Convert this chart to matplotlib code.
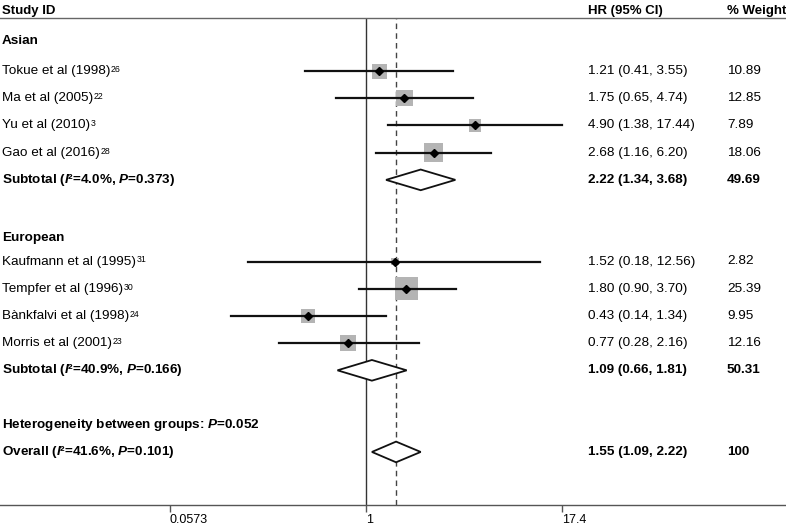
import numpy as np
import matplotlib.pyplot as plt
import matplotlib.transforms as mtransforms
from matplotlib.patches import Polygon

plt.rcParams['font.family'] = ['Liberation Sans', 'DejaVu Sans']
plt.rcParams['mathtext.fontset'] = 'custom'
plt.rcParams['mathtext.rm'] = 'Liberation Sans'
plt.rcParams['mathtext.it'] = 'Liberation Sans:italic'
plt.rcParams['mathtext.bf'] = 'Liberation Sans:bold'
plt.rcParams['mathtext.bfit'] = 'Liberation Sans:bold:italic'

# study data
studies = ['Tokue et al (1998)', 'Ma et al (2005)', 'Yu et al (2010)', 'Gao et al (2016)',
           'Kaufmann et al (1995)', 'Tempfer et al (1996)', 'Bànkfalvi et al (1998)', 'Morris et al (2001)']
refs = ['26', '22', '3', '28', '31', '30', '24', '23']
hr = [1.21, 1.75, 4.90, 2.68, 1.52, 1.80, 0.43, 0.77]
lo = [0.41, 0.65, 1.38, 1.16, 0.18, 0.90, 0.14, 0.28]
hi = [3.55, 4.74, 17.44, 6.20, 12.56, 3.70, 1.34, 2.16]
weight = ['10.89', '12.85', '7.89', '18.06', '2.82', '25.39', '9.95', '12.16']

# pooled data
pooled_labels = [r'Subtotal ($\mathbfit{I}$²=4.0%, $\mathbfit{P}$=0.373)',
                 r'Subtotal ($\mathbfit{I}$²=40.9%, $\mathbfit{P}$=0.166)',
                 r'Overall ($\mathbfit{I}$²=41.6%, $\mathbfit{P}$=0.101)']
pooled_hr = [2.22, 1.09, 1.55]
pooled_lo = [1.34, 0.66, 1.09]
pooled_hi = [3.68, 1.81, 2.22]
pooled_weight = ['49.69', '50.31', '100']

groups = ['Asian', 'European']
ticks = [0.0573, 1, 17.4]
tick_labels = ['0.0573', '1', '17.4']

# row positions
study_rows = [0, 1, 2, 3, 7, 8, 9, 10]
pooled_rows = [4, 11, 14]
group_rows = [-1.1, 6.14]
het_row = 13

fig = plt.figure(figsize=(7.86, 5.26), dpi=100)
ax = fig.add_axes([0, 21 / 526, 1, 487 / 526])
ax.set_xscale('log')
ax.set_xlim(0.00482, 456)
ax.set_ylim(15.95, -1.95)

for s in ['left', 'right']:
    ax.spines[s].set_visible(False)
ax.spines['top'].set_color('#666666')
ax.spines['top'].set_linewidth(1)
ax.spines['bottom'].set_color('#555555')
ax.spines['bottom'].set_linewidth(1)
ax.set_yticks([])
ax.set_xticks(ticks)
ax.set_xticklabels(tick_labels, fontsize=9, ha='left')
ax.minorticks_off()
ax.tick_params(axis='x', direction='out', length=5, width=1, color='#555555', pad=1.5)

# reference lines
ax.axvline(1, color='#333333', lw=1, zorder=1)
ax.axvline(pooled_hr[2], color='#444444', lw=1, ls=(0, (4, 3)), zorder=1)

# studies
for y, h, l, u, w in zip(study_rows, hr, lo, hi, weight):
    side = 4.56 * np.sqrt(float(w)) * 0.72
    ax.scatter([h], [y], marker='s', s=side ** 2, color='#b4b4b4', edgecolors='none', zorder=2)
    ax.plot([l, u], [y, y], color='#111111', lw=1.6, zorder=3)
    ax.plot([h], [y], marker='D', ms=4, color='black', zorder=4)

# diamonds
for y, h, l, u in zip(pooled_rows, pooled_hr, pooled_lo, pooled_hi):
    dh = 0.38
    ax.add_patch(Polygon([[l, y], [h, y - dh], [u, y], [h, y + dh]], closed=True,
                         facecolor='white', edgecolor='#111111', lw=1.3, zorder=3))

trans = mtransforms.blended_transform_factory(ax.transAxes, ax.transData)
x_lab, x_hr, x_w = 2 / 786, 588 / 786, 727 / 786
fs = 9.7

ax.text(x_lab, -2.2, 'Study ID', transform=trans, fontsize=9.5, fontweight='bold', va='center', clip_on=False)
ax.text(x_hr, -2.2, 'HR (95% CI)', transform=trans, fontsize=9.5, fontweight='bold', va='center', clip_on=False)
ax.text(x_w, -2.2, '% Weight', transform=trans, fontsize=9.5, fontweight='bold', va='center', clip_on=False)

for y, g in zip(group_rows, groups):
    ax.text(x_lab, y, g, transform=trans, fontsize=fs, fontweight='bold', va='center')

name_texts = []
for y, name, h, l, u, w in zip(study_rows, studies, hr, lo, hi, weight):
    name_texts.append(ax.text(x_lab, y, name, transform=trans, fontsize=fs, va='center'))
    ax.text(x_hr, y, '%.2f (%.2f, %.2f)' % (h, l, u), transform=trans, fontsize=fs, va='center')
    ax.text(x_w, y, w, transform=trans, fontsize=fs, va='center')

# superscript reference numbers
fig.canvas.draw()
rend = fig.canvas.get_renderer()
for t, r in zip(name_texts, refs):
    bb = t.get_window_extent(rend)
    ax.annotate(r, xy=(bb.x1 + 0.5, bb.y1), xycoords='figure pixels',
                fontsize=6.3, va='top', ha='left')

for y, name, h, l, u, w in zip(pooled_rows, pooled_labels, pooled_hr, pooled_lo, pooled_hi, pooled_weight):
    ax.text(x_lab, y, name, transform=trans, fontsize=fs, fontweight='bold', va='center')
    ax.text(x_hr, y, '%.2f (%.2f, %.2f)' % (h, l, u), transform=trans, fontsize=fs, fontweight='bold', va='center')
    ax.text(x_w, y, w, transform=trans, fontsize=fs, fontweight='bold', va='center')

ax.text(x_lab, het_row, r'Heterogeneity between groups: $\mathbfit{P}$=0.052', transform=trans,
        fontsize=fs, fontweight='bold', va='center')

fig.savefig('out.png', dpi=100)
